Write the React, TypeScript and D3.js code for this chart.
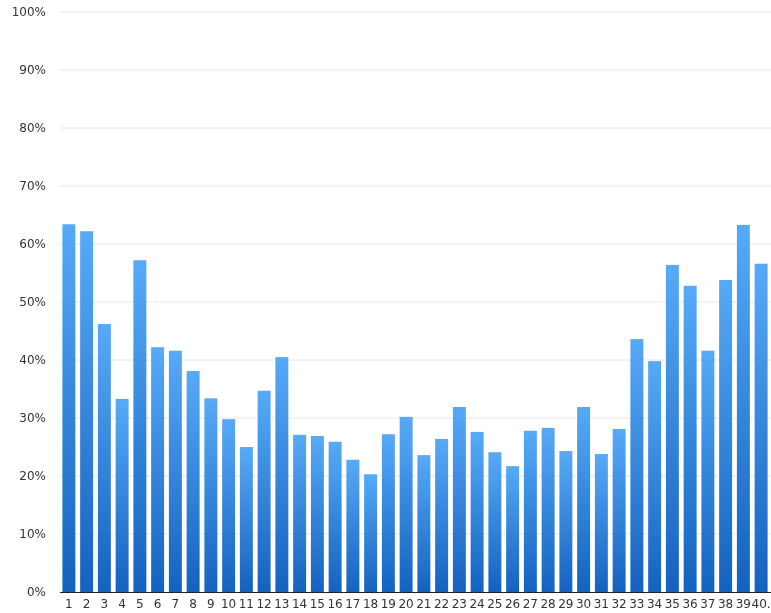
import * as d3 from "d3";

const CATEGORIES = Array.from({ length: 40 }, (_, i) => String(i + 1));
const VALUES = [
  63.4, 62.2, 46.2, 33.3, 57.2, 42.2, 41.6, 38.1, 33.4, 29.8,
  25.0, 34.7, 40.5, 27.1, 26.9, 25.9, 22.8, 20.3, 27.2, 30.2,
  23.6, 26.4, 31.9, 27.6, 24.1, 21.7, 27.8, 28.3, 24.3, 31.9,
  23.8, 28.1, 43.6, 39.8, 56.4, 52.8, 41.6, 53.8, 63.3, 56.6,
];
const Y_TICKS = [0, 10, 20, 30, 40, 50, 60, 70, 80, 90, 100];

const W = 771;
const H = 613;
const m = { top: 12, right: 1, bottom: 21, left: 60 };
const FONT = "'DejaVu Sans', sans-serif";

export default function App() {
  const x = d3
    .scaleBand<string>()
    .domain(CATEGORIES)
    .range([m.left, W - m.right])
    .paddingInner(0.27)
    .paddingOuter(0.135);
  const y = d3.scaleLinear().domain([0, 100]).range([H - m.bottom, m.top]);

  return (
    <svg
      width={W}
      height={H}
      style={{ position: "fixed", left: 0, top: 0, display: "block" }}
    >
      <defs>
        <linearGradient id="barGrad" x1="0" y1="0" x2="0" y2="1">
          <stop offset="0%" stopColor="#57aaf7" />
          <stop offset="100%" stopColor="#1462bf" />
        </linearGradient>
      </defs>

      {/* grid + y labels */}
      {Y_TICKS.map((t) => (
        <g key={t}>
          {t > 0 && (
            <line
              x1={m.left}
              x2={W}
              y1={y(t)}
              y2={y(t)}
              stroke="#e6e6e6"
              strokeWidth={1}
            />
          )}
          <text
            x={46}
            y={y(t)}
            dy="0.35em"
            textAnchor="end"
            fontFamily={FONT}
            fontSize={12}
            fill="#333"
          >
            {t}%
          </text>
        </g>
      ))}

      {/* bars */}
      {VALUES.map((v, i) => (
        <rect
          key={i}
          x={x(CATEGORIES[i])}
          y={y(v)}
          width={x.bandwidth()}
          height={y(0) - y(v)}
          fill="url(#barGrad)"
        />
      ))}

      {/* x axis */}
      <line x1={m.left} x2={W} y1={y(0) + 0.5} y2={y(0) + 0.5} stroke="#222" strokeWidth={1.2} />
      {CATEGORIES.map((c) => (
        <text
          key={c}
          x={x(c)! + x.bandwidth() / 2}
          y={H - 5}
          textAnchor="middle"
          fontFamily={FONT}
          fontSize={12}
          fill="#333"
        >
          {c === "40" ? "40." : c}
        </text>
      ))}
    </svg>
  );
}
